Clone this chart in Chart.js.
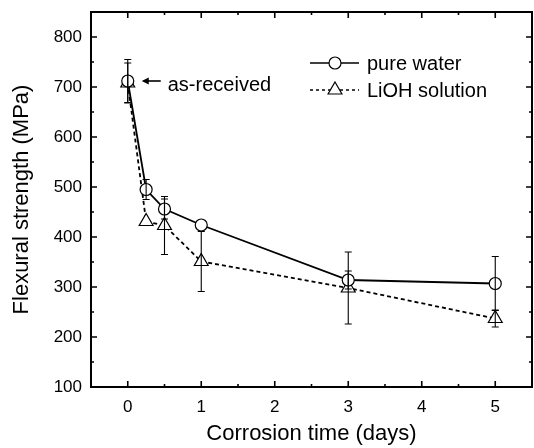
<!DOCTYPE html>
<html>
<head>
<meta charset="utf-8">
<script src="https://cdn.jsdelivr.net/npm/chart.js@4.4.1/dist/chart.umd.min.js"></script>
<style>
    html, body { margin: 0; padding: 0; background: #fff; }
    canvas { display: block; }
</style>
</head>
<body>
<canvas id="strength_chart" width="534" height="448"></canvas>
<script>
// values
const days = [0, 0.25, 0.5, 1, 3, 5];
const waterStrength = [712, 495, 456, 424, 314, 307];
const waterError = [43, 20, 20, 0, 18, 54];
const liohStrength = [708, 431, 423, 351, 298, 237];
const liohError = [40, 0, 58, 60, 72, 17];
const seriesNames = ["pure water", "LiOH solution"];
const xTickLabels = ["0", "1", "2", "3", "4", "5"];
const yTickLabels = ["100", "200", "300", "400", "500", "600", "700", "800"];

const FONT = "'Liberation Sans', Arial, Helvetica, sans-serif";

const toPoints = (xs, ys) => xs.map((x, i) => ({ x: x, y: ys[i] }));

function drawMarker(ctx, style, x, y) {
    ctx.save();
    ctx.fillStyle = "#fff";
    ctx.strokeStyle = "#000";
    ctx.lineWidth = 1.2;
    ctx.setLineDash([]);
    ctx.beginPath();
    if (style === "circle") {
        ctx.arc(x, y, 6, 0, Math.PI * 2);
    } else {
        const r = 8;
        for (let k = 0; k < 3; k++) {
            const a = k * 2 * Math.PI / 3;
            const px = x + Math.sin(a) * r, py = y - Math.cos(a) * r;
            if (k === 0) ctx.moveTo(px, py); else ctx.lineTo(px, py);
        }
        ctx.closePath();
    }
    ctx.fill();
    ctx.stroke();
    ctx.restore();
}

const errorBars = {
    id: "errorBars",
    afterDatasetsDraw(chart) {
        const { ctx, scales: { x, y } } = chart;
        ctx.save();
        ctx.strokeStyle = "#000";
        ctx.lineWidth = 1.1;
        chart.data.datasets.forEach(ds => {
            ds.errors.forEach((e, i) => {
                if (!e) return;
                const px = x.getPixelForValue(ds.data[i].x);
                const top = y.getPixelForValue(ds.data[i].y + e);
                const bot = y.getPixelForValue(ds.data[i].y - e);
                ctx.beginPath();
                ctx.moveTo(px, top); ctx.lineTo(px, bot);
                ctx.moveTo(px - 3.5, top); ctx.lineTo(px + 3.5, top);
                ctx.moveTo(px - 3.5, bot); ctx.lineTo(px + 3.5, bot);
                ctx.stroke();
            });
        });
        ctx.restore();
    }
};

const frameAndExtras = {
    id: "frameAndExtras",
    afterDraw(chart) {
        const { ctx, chartArea: a, scales: { x, y } } = chart;
        ctx.save();
        ctx.strokeStyle = "#000";
        ctx.lineWidth = 2;
        ctx.strokeRect(a.left, a.top, a.right - a.left, a.bottom - a.top);

        // inward ticks on all four sides
        ctx.lineWidth = 1.6;
        ctx.beginPath();
        x.ticks.forEach(t => {
            if (t.value <= x.min || t.value >= x.max) return;
            const px = x.getPixelForValue(t.value);
            const len = Number.isInteger(t.value) ? 6 : 3;
            ctx.moveTo(px, a.bottom); ctx.lineTo(px, a.bottom - len);
            ctx.moveTo(px, a.top); ctx.lineTo(px, a.top + len);
        });
        y.ticks.forEach(t => {
            if (t.value <= y.min || t.value >= y.max) return;
            const py = y.getPixelForValue(t.value);
            const len = t.value % 100 === 0 ? 6 : 3;
            ctx.moveTo(a.left, py); ctx.lineTo(a.left + len, py);
            ctx.moveTo(a.right, py); ctx.lineTo(a.right - len, py);
        });
        ctx.stroke();

        // legend
        ctx.font = "20px " + FONT;
        ctx.fillStyle = "#000";
        ctx.textBaseline = "alphabetic";
        const rows = [
            { name: seriesNames[0], style: "circle", dash: [], y: 63, base: 69.5 },
            { name: seriesNames[1], style: "triangle", dash: [3, 3], y: 90, base: 96.5 }
        ];
        rows.forEach(r => {
            ctx.lineWidth = 1.6;
            ctx.setLineDash(r.dash);
            ctx.beginPath();
            ctx.moveTo(310, r.y); ctx.lineTo(359, r.y);
            ctx.stroke();
            ctx.setLineDash([]);
            drawMarker(ctx, r.style, 335, r.y);
            ctx.fillText(r.name, 367, r.base);
        });

        // as-received arrow
        const ax = x.getPixelForValue(days[0]);
        const ay = y.getPixelForValue(waterStrength[0]);
        ctx.lineWidth = 1.6;
        ctx.beginPath();
        ctx.moveTo(ax + 16, ay); ctx.lineTo(ax + 33, ay);
        ctx.stroke();
        ctx.beginPath();
        ctx.moveTo(ax + 14, ay);
        ctx.lineTo(ax + 21, ay - 3.5);
        ctx.lineTo(ax + 21, ay + 3.5);
        ctx.closePath();
        ctx.fill();
        ctx.fillText("as-received", ax + 40, ay + 9.5);
        ctx.restore();
    }
};

const ctx = document.getElementById("strength_chart").getContext("2d");
const strengthChart = new Chart(ctx, {
    type: "scatter",
    data: {
        datasets: [
            {
                label: seriesNames[0],
                data: toPoints(days, waterStrength),
                errors: waterError,
                showLine: true,
                borderColor: "#000",
                borderWidth: 1.8,
                pointStyle: "circle",
                pointRadius: 6,
                pointBorderWidth: 1.2,
                pointBackgroundColor: "#fff",
                pointBorderColor: "#000",
            },
            {
                label: seriesNames[1],
                data: toPoints(days, liohStrength),
                errors: liohError,
                showLine: true,
                borderColor: "#000",
                borderWidth: 1.8,
                borderDash: [4, 3],
                pointStyle: "triangle",
                pointRadius: 8,
                pointBorderWidth: 1.2,
                pointBackgroundColor: "#fff",
                pointBorderColor: "#000",
            }
        ]
    },
    options: {
        responsive: false,
        animation: false,
        devicePixelRatio: 1,
        layout: { autoPadding: false, padding: { top: 12, right: 2, left: 0, bottom: 0 } },
        plugins: { legend: { display: false }, tooltip: { enabled: false } },
        scales: {
            x: {
                type: "linear",
                min: -0.5, max: 5.5,
                grid: { display: false, drawTicks: false },
                border: { display: false },
                ticks: {
                    stepSize: 0.5, autoSkip: false, maxRotation: 0, padding: 10,
                    color: "#000", font: { family: FONT, size: 17 },
                    callback: v => xTickLabels.includes(String(v)) ? String(v) : ""
                },
                title: {
                    display: true, text: "Corrosion time (days)", color: "#000",
                    font: { family: FONT, size: 22, lineHeight: 1.2 },
                    padding: { top: 0, bottom: 1 }
                },
                afterFit: s => { s.height = 61; s.paddingLeft = 0; s.paddingRight = 0; }
            },
            y: {
                min: 100, max: 850,
                grid: { display: false, drawTicks: false },
                border: { display: false },
                ticks: {
                    stepSize: 50, autoSkip: false, padding: 9,
                    color: "#000", font: { family: FONT, size: 17 },
                    callback: v => yTickLabels.includes(String(v)) ? String(v) : ""
                },
                title: {
                    display: true, text: "Flexural strength (MPa)", color: "#000",
                    font: { family: FONT, size: 22, lineHeight: 1.2 },
                    padding: { top: 9, bottom: 0 }
                },
                afterFit: s => { s.width = 91; s.paddingTop = 0; s.paddingBottom = 0; }
            }
        }
    },
    plugins: [errorBars, frameAndExtras]
});
</script>
</body>
</html>
